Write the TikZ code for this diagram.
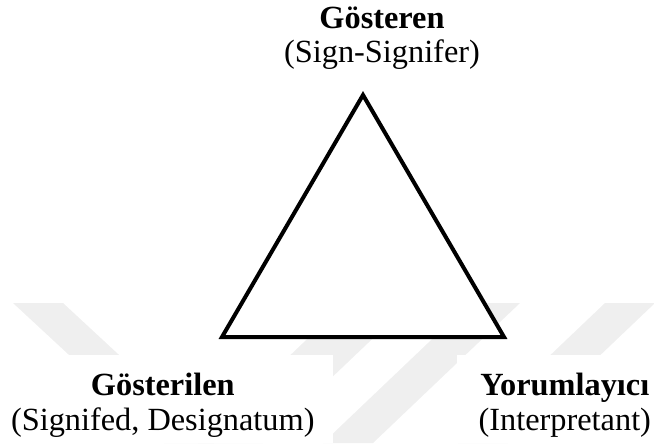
\documentclass[tikz,border=0pt]{standalone}
\usepackage{fontspec}
\setmainfont{Liberation Serif}
\usetikzlibrary{positioning}
\definecolor{wmGray}{HTML}{EFEFEF}

\begin{document}
\begin{tikzpicture}[
  x=1cm,y=1cm,
  pole/.style={align=center, inner sep=0pt,
               font=\fontsize{23}{24.8}\selectfont},
  band/.style={fill=wmGray, draw=none},
  triangle/.style={draw=black, fill=white, line width=2.85pt},
]
  \path[use as bounding box] (0,0) rectangle (16.35,11.075);

  % faint watermark stripes behind the lower half
  \begin{scope}
    \clip (0,0) rectangle (16.35,3.5);
    \fill[band] (0.325,3.5) -- (1.575,3.5) -- (5.35,0) -- (4.10,0) -- cycle;
    \fill[band] (8.625,3.5) -- (10.25,3.5) -- (6.575,0) -- (4.95,0) -- cycle;
    \fill[band] (11.75,3.5) -- (13.00,3.5) -- (9.325,0) -- (8.075,0) -- cycle;
    \fill[band] (15.125,3.5) -- (16.375,3.5) -- (12.70,0) -- (11.45,0) -- cycle;
  \end{scope}
  % white patches under the bottom labels
  \fill[white] (0,0) rectangle (8.325,2.2);
  \fill[white] (11.425,0) rectangle (16.35,2.2);

  % the sign triangle
  \coordinate (apex) at (9.075,8.70);
  \coordinate (baseL) at (5.55,2.65);
  \coordinate (baseR) at (12.60,2.65);
  \draw[triangle] (apex) -- (baseL) -- (baseR) -- cycle;

  \node[pole] (sign) at (9.55,10.12) {\textbf{Gösteren}\\(Sign-Signifer)};
  \node[pole] (object) at (4.07,0.94) {\textbf{Gösterilen}\\(Signifed, Designatum)};
  \node[pole] (interp) at (14.12,0.94) {\textbf{Yorumlayıcı}\\(Interpretant)};
\end{tikzpicture}
\end{document}
